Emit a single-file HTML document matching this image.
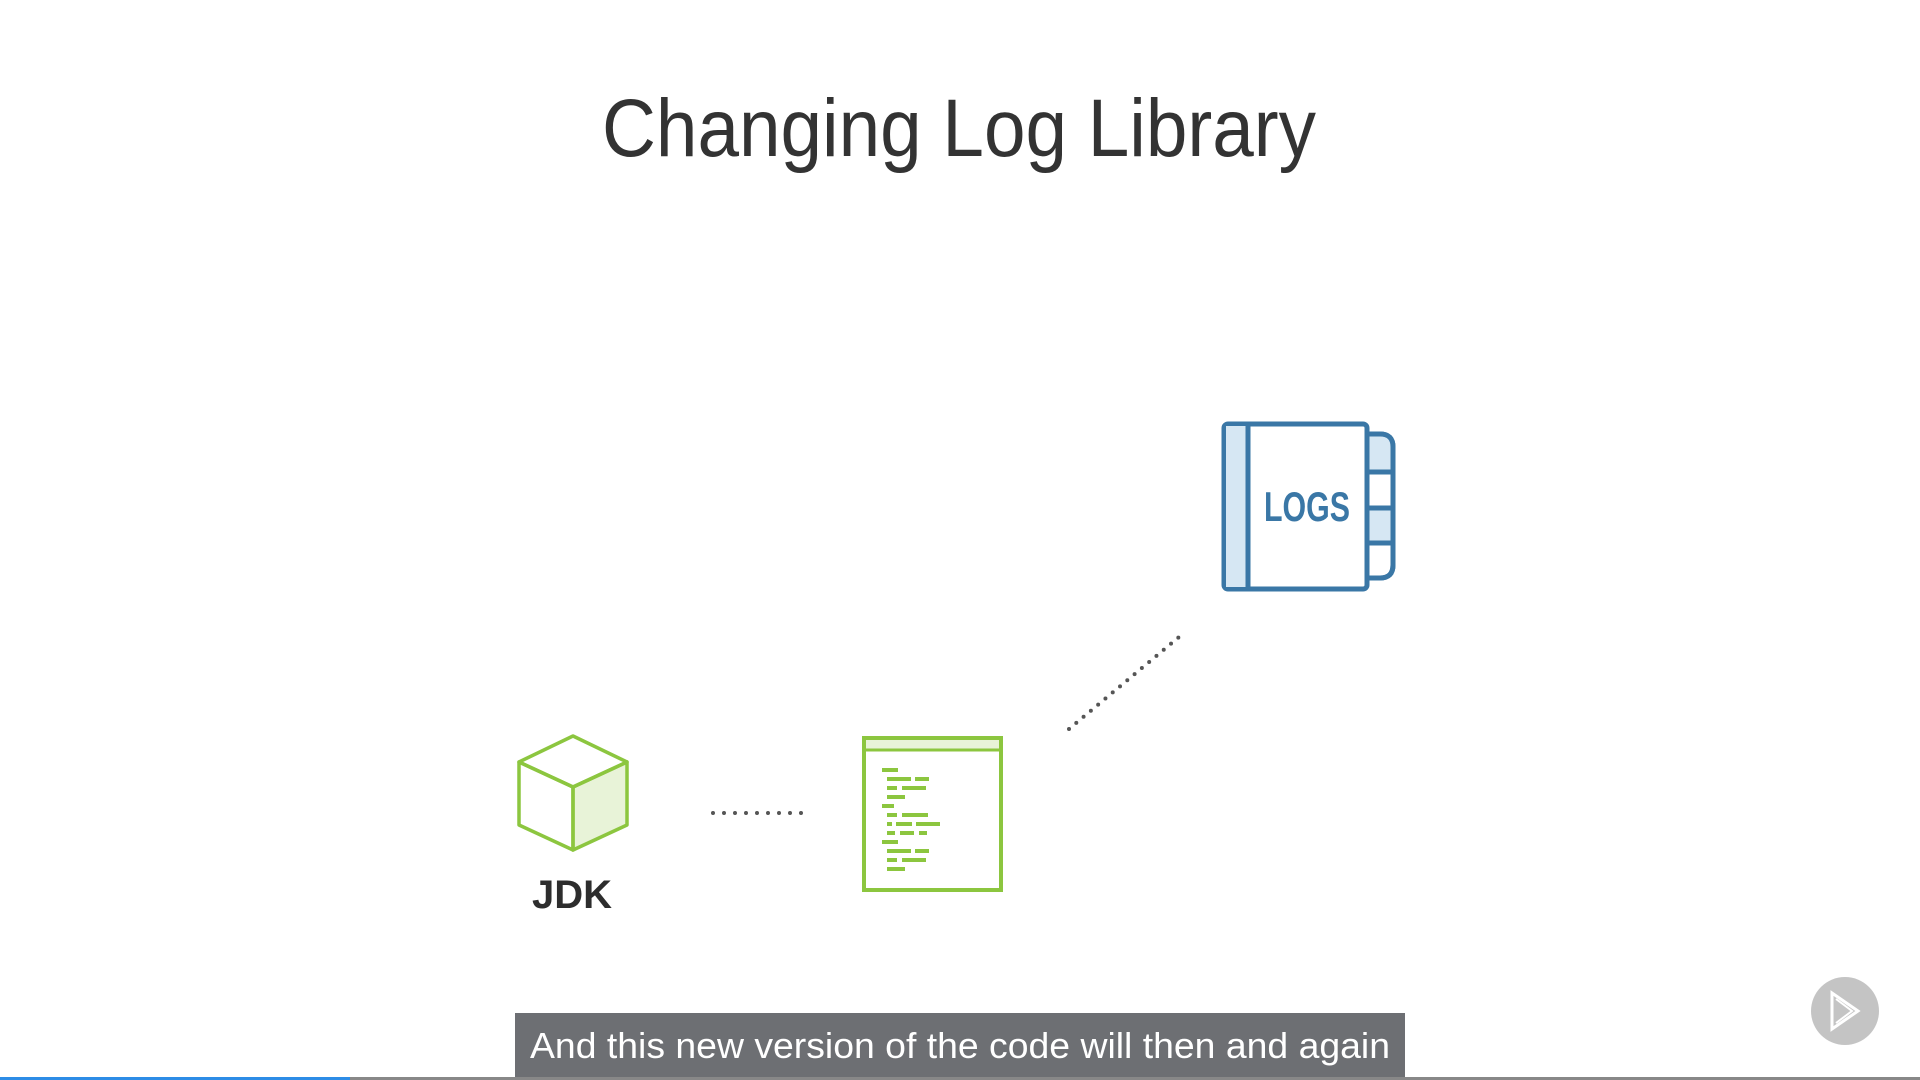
<!DOCTYPE html>
<html><head><meta charset="utf-8"><style>
html,body{margin:0;padding:0;background:#fff;}
svg{display:block}
</style></head><body>
<svg width="1920" height="1080" viewBox="0 0 1920 1080" xmlns="http://www.w3.org/2000/svg">
<rect width="1920" height="1080" fill="#fff"/>
<text x="602" y="156" font-family="Liberation Sans, sans-serif" font-size="82" fill="#333" textLength="714" lengthAdjust="spacingAndGlyphs">Changing Log Library</text>

<!-- cube -->
<g stroke="#8cc63f" stroke-width="3.5" stroke-linejoin="round" fill="none">
<polygon points="573,787 627,762 627,825 573,850" fill="#e8f3d8"/>
<polygon points="519,762 573,736 627,762 573,787 519,762"/>
<polygon points="519,762 573,787 573,850 519,825"/>
</g>
<text x="572" y="908" text-anchor="middle" font-family="Liberation Sans, sans-serif" font-weight="bold" font-size="40" fill="#2d2d2d">JDK</text>

<!-- horizontal dots -->
<line x1="713" y1="813" x2="802" y2="813" stroke="#555" stroke-width="4" stroke-linecap="round" stroke-dasharray="0 11"/>

<!-- code window -->
<g>
<rect x="864" y="738" width="137" height="152" fill="#fff" stroke="#8cc63f" stroke-width="4"/>
<rect x="866" y="740" width="133" height="9" fill="#e8f3d8"/>
<line x1="864" y1="750" x2="1001" y2="750" stroke="#8cc63f" stroke-width="3"/>
<g fill="#8cc63f">
<rect x="882" y="768" width="16" height="4"/>
<rect x="887" y="777" width="24" height="4"/><rect x="915" y="777" width="14" height="4"/>
<rect x="887" y="786" width="10" height="4"/><rect x="902" y="786" width="24" height="4"/>
<rect x="887" y="795" width="18" height="4"/>
<rect x="882" y="804" width="12" height="4"/>
<rect x="887" y="813" width="10" height="4"/><rect x="902" y="813" width="26" height="4"/>
<rect x="887" y="822" width="5" height="4"/><rect x="896" y="822" width="16" height="4"/><rect x="916" y="822" width="24" height="4"/>
<rect x="887" y="831" width="8" height="4"/><rect x="900" y="831" width="14" height="4"/><rect x="919" y="831" width="8" height="4"/>
<rect x="882" y="840" width="16" height="4"/>
<rect x="887" y="849" width="24" height="4"/><rect x="915" y="849" width="14" height="4"/>
<rect x="887" y="858" width="10" height="4"/><rect x="902" y="858" width="24" height="4"/>
<rect x="887" y="867" width="18" height="4"/>
</g>
</g>

<!-- diagonal dots -->
<line x1="1069" y1="729" x2="1185" y2="632" stroke="#555" stroke-width="4" stroke-linecap="round" stroke-dasharray="0 9.5"/>

<!-- logs book -->
<g stroke="#3a77a6" stroke-width="5" stroke-linejoin="round">
<path d="M1367,434 H1380 Q1393,434 1393,447 V565 Q1393,578 1380,578 H1367 Z" fill="#fff"/>
<rect x="1367" y="436" width="24" height="34" fill="#d6e7f3" stroke="none"/>
<rect x="1367" y="510" width="24" height="32" fill="#d6e7f3" stroke="none"/>
<path d="M1367,434 H1380 Q1393,434 1393,447 V565 Q1393,578 1380,578 H1367" fill="none"/>
<line x1="1367" y1="472" x2="1393" y2="472"/>
<line x1="1367" y1="508" x2="1393" y2="508"/>
<line x1="1367" y1="543" x2="1393" y2="543"/>
<rect x="1224" y="424" width="143" height="165" rx="4" fill="#fff"/>
<rect x="1226" y="426" width="21" height="161" fill="#d6e7f3" stroke="none"/>
<line x1="1248" y1="424" x2="1248" y2="589"/>
</g>
<text x="1307" y="521" text-anchor="middle" font-family="Liberation Sans, sans-serif" font-weight="bold" font-size="42" fill="#3a77a6" textLength="86" lengthAdjust="spacingAndGlyphs">LOGS</text>

<!-- caption -->
<rect x="515" y="1013" width="890" height="65" fill="#6d6f73"/>
<text x="960" y="1058" text-anchor="middle" font-family="Liberation Sans, sans-serif" font-size="36" fill="#fff" textLength="860" lengthAdjust="spacingAndGlyphs">And this new version of the code will then and again</text>

<!-- play button -->
<circle cx="1845" cy="1011" r="34" fill="#c4c4c4"/>
<path d="M1832,993 L1858,1011 L1832,1029 Z" fill="none" stroke="#fff" stroke-width="3"/>
<path d="M1836,999 L1852,1011 L1836,1023" fill="none" stroke="#fff" stroke-width="2"/>

<!-- progress -->
<rect x="0" y="1077" width="1920" height="3" fill="#888"/>
<rect x="0" y="1077" width="350" height="3" fill="#2d8ce6"/>
</svg>
</body></html>
